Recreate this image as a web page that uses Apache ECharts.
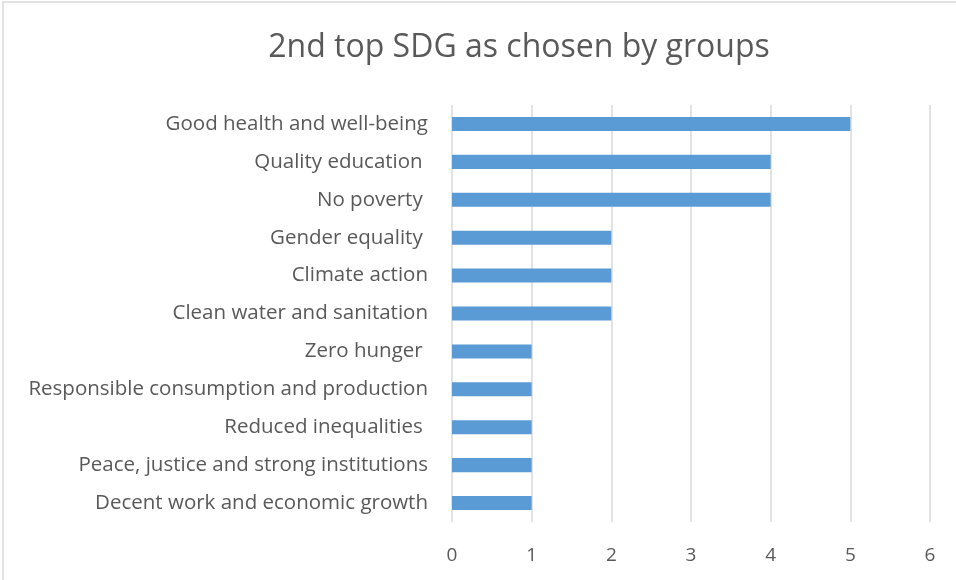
<!DOCTYPE html>
<html><head><meta charset="utf-8">
<script src="https://cdn.jsdelivr.net/npm/echarts@6/dist/echarts.min.js"></script>
<style>html,body{margin:0;padding:0;background:#fff}#c{width:956px;height:580px}</style>
</head><body><div id="c"></div>
<script>
var titleText = '2nd top SDG as chosen by groups';
var categories = ['Good health and well-being', 'Quality education ', 'No poverty ', 'Gender equality ', 'Climate action', 'Clean water and sanitation', 'Zero hunger ', 'Responsible consumption and production', 'Reduced inequalities ', 'Peace, justice and strong institutions', 'Decent work and economic growth'];
var values = [5, 4, 4, 2, 2, 2, 1, 1, 1, 1, 1];
var xTicks = [0, 1, 2, 3, 4, 5, 6];

var chart = echarts.init(document.getElementById('c'), null, {renderer: 'canvas'});
var font = '"Open Sans", sans-serif';
chart.setOption({
  animation: false,
  graphic: [{type: 'rect', shape: {x: 3, y: 2, width: 960, height: 590}, style: {fill: 'none', stroke: '#d9d9d9', lineWidth: 1.5}, silent: true}],
  title: {text: titleText, left: 514, top: 27, textAlign: 'center',
    textStyle: {fontFamily: font, fontSize: 32, fontWeight: 'normal', color: '#595959'}},
  grid: {left: 452, right: 26, top: 105, bottom: 58, containLabel: false},
  xAxis: {type: 'value', min: xTicks[0], max: xTicks[xTicks.length - 1], interval: 1,
    axisLine: {show: false}, axisTick: {show: false},
    axisLabel: {fontFamily: font, fontSize: 19, color: '#595959', margin: 24},
    splitLine: {show: true, lineStyle: {color: '#d9d9d9', width: 1.5}}},
  yAxis: {type: 'category', data: categories, inverse: true,
    axisLine: {show: false}, axisTick: {show: false},
    axisLabel: {fontFamily: font, fontSize: 20.5, color: '#595959', margin: 24}},
  series: [{type: 'bar', data: values, barWidth: '37%', itemStyle: {color: '#5b9bd5'}}]
});
</script></body></html>
